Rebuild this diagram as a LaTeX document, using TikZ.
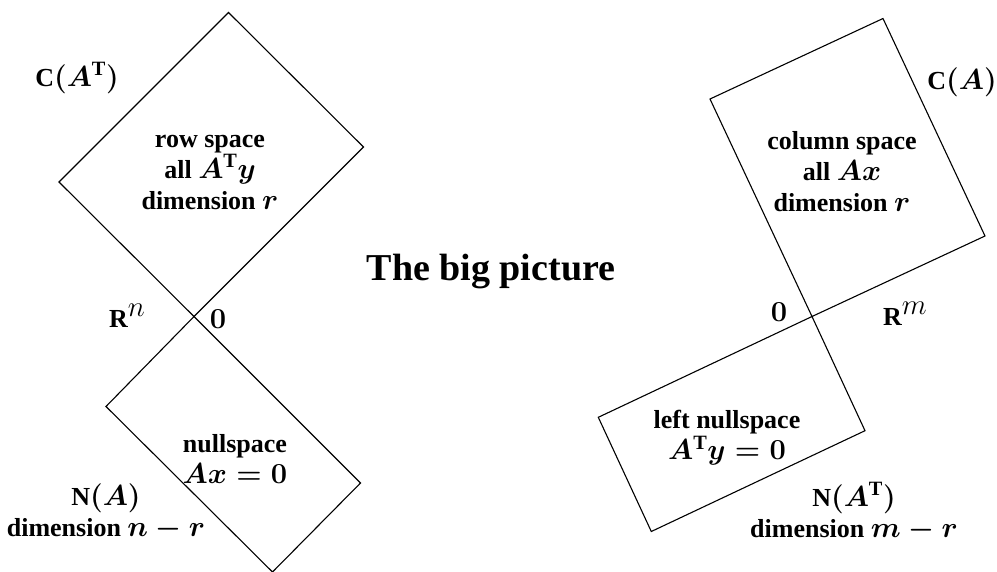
\RequirePackage{fix-cm}
\documentclass[tikz,border=0pt]{standalone}
\usepackage{fontspec}
\setmainfont{Liberation Serif}
\newcommand{\mth}[1]{{\fontsize{29}{31}\selectfont$#1$}}
\newcommand{\bigsup}[1]{\raisebox{11pt}{\fontsize{29}{31}\selectfont\unboldmath$#1$}}
\begin{document}
\begin{tikzpicture}[x=1pt,y=-1pt,
  space/.style={draw=black,line width=1.1pt,line join=miter},
  lab/.style={font=\fontsize{26}{31}\selectfont\bfseries\boldmath,align=center,inner sep=0pt},
  ttl/.style={font=\fontsize{38}{44}\selectfont\bfseries,inner sep=0pt}]
\useasboundingbox (0,0) rectangle (997,571);
% left figure
\coordinate (O1) at (194,316.5);
\coordinate (R1) at (363.5,147);
\coordinate (T1) at (228.5,12.5);
\coordinate (L1) at (59,182);
\coordinate (L2) at (106,406.5);
\coordinate (B2) at (272.5,572);
\coordinate (R2) at (360.5,483);
\draw[space] (O1) -- (R1) -- (T1) -- (L1) -- cycle;
\draw[space] (O1) -- (L2) -- (B2) -- (R2) -- cycle;
% right figure
\coordinate (O2) at (812,316.5);
\coordinate (L3) at (710,99);
\coordinate (T3) at (883,18.5);
\coordinate (R3) at (985,236);
\coordinate (L4) at (598.3,417.3);
\coordinate (B4) at (651.3,531.5);
\coordinate (R4) at (865,430.7);
\draw[space] (O2) -- (L3) -- (T3) -- (R3) -- cycle;
\draw[space] (O2) -- (L4) -- (B4) -- (R4) -- cycle;
% labels left
\node[lab] (cat) at (77,78) {C\mth{(A^{\mathrm{T}})}};
\node[lab] (row) at (210,172) {row space\\all \mth{A^{\mathrm{T}}y}\\dimension \mth{r}};
\node[lab] (rn) at (127,316) {R\bigsup{n}};
\node[lab] (z1) at (218,319) {\mth{0}};
\node[lab] (nul) at (235,459) {nullspace\\\mth{Ax=0}};
\node[lab] (na) at (106,512) {N\mth{(A)}\\dimension \mth{n-r}};
% title
\node[ttl] (title) at (491,272) {The big picture};
% labels right
\node[lab] (ca) at (962,82) {C\mth{(A)}};
\node[lab] (col) at (842,172) {column space\\all \mth{Ax}\\dimension \mth{r}};
\node[lab] (z2) at (779,312) {\mth{0}};
\node[lab] (rm) at (905,314) {R\bigsup{m}};
\node[lab] (lnul) at (727,438) {left nullspace\\\mth{A^{\mathrm{T}}y=0}};
\node[lab] (nat) at (854,512) {N\mth{(A^{\mathrm{T}})}\\dimension \mth{m-r}};
\end{tikzpicture}
\end{document}
